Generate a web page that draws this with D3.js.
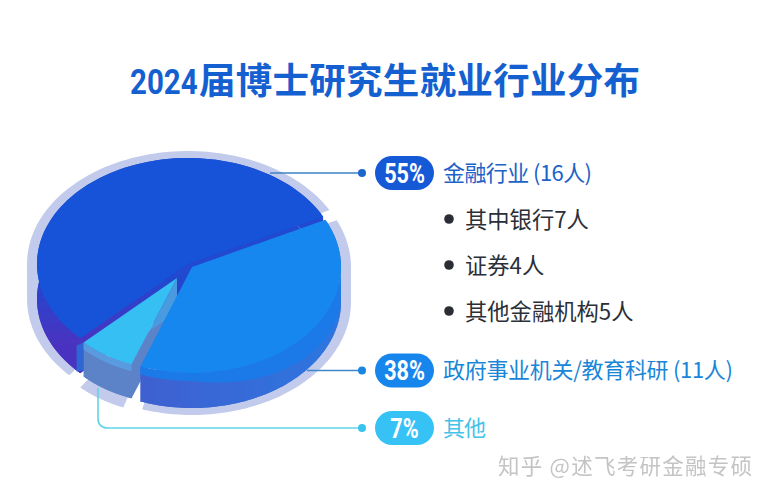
<!DOCTYPE html>
<html><head><meta charset="utf-8">
<script src="https://cdn.jsdelivr.net/npm/d3@7/dist/d3.min.js"></script>
<style>html,body{margin:0;background:#fff}svg{display:block}text{font-family:"Noto Sans CJK SC","Noto Sans",sans-serif}</style>
</head><body><svg id="c" width="773" height="500"></svg>
<script>
const titleText = "届博士研究生就业行业分布";
const titleYear = "2024";
const categories = ["金融行业 (16人)", "政府事业机关/教育科研 (11人)", "其他"];
const shares = [55, 38, 7];
const shareLabels = ["55%", "38%", "7%"];
const subItems = ["其中银行7人", "证券4人", "其他金融机构5人"];
const watermark = "知乎 @述飞考研金融专硕";

const svg = d3.select("#c");
const pillFill = ["#1559d6", "#1786ec", "#36c2f5"];
const labelFill = ["#1c62c8", "#1a86d8", "#45c2e8"];
const labelLen = [149, 290, 43];
const lineFill = ["#3d80c4", "#3d88cc", "#62d3e6"];
const dotFill = ["#1a66cc", "#1a86e0", "#38c4ee"];
const rowY = [173, 370.5, 428];

const geo = [
  {cx:188, cy:264, rx:151, ry:106, depth:35, top:"#1853d8", wall:"url(#dw)"},
  {cx:192, cy:267, rx:149, ry:106, depth:35, top:"#1787ef", wall:"url(#lw)"},
  {cx:177, cy:278, rx:131, ry:92,  depth:34, top:"#36bff3", wall:"#5b82c8"}
];
const defs = svg.append("defs");
const lg = defs.append("linearGradient").attr("id","lw");
lg.append("stop").attr("offset","0").attr("stop-color","#3f60d0");
lg.append("stop").attr("offset","1").attr("stop-color","#2c76e0");
const dg = defs.append("linearGradient").attr("id","dw").attr("gradientUnits","userSpaceOnUse")
  .attr("x1",0).attr("x2",0).attr("y1",275).attr("y2",345);
dg.append("stop").attr("offset","0").attr("stop-color","#2048d0");
dg.append("stop").attr("offset","1").attr("stop-color","#4a33c0");
defs.append("filter").attr("id","soft").append("feGaussianBlur").attr("stdDeviation",0.45);
defs.append("filter").attr("id","wm").append("feGaussianBlur").attr("stdDeviation",0.6);

const startDeg = 225.5;
const order = [0, 1, 2];
const pie = d3.pie().sort(null).value(d => d)
  .startAngle(startDeg * Math.PI/180).endAngle((startDeg+360) * Math.PI/180);
const arcs = pie(shares);

function pts(a, g, padX, padY, drop) {
  const n = 90, out = [];
  d3.range(n+1).forEach(i => {
    const t = a.startAngle + (a.endAngle - a.startAngle) * i / n;
    const c = Math.cos(t), s = Math.sin(t);
    out.push([g.cx + (g.rx+padX)*s, g.cy - (g.ry+padY)*c + (drop && c < 0 ? g.depth : 0)]);
  });
  return out;
}
const pathLine = d3.line();
const closed = p => pathLine(p) + "Z";
const root = svg.append("g").attr("filter","url(#soft)");

// halo behind each wedge
order.forEach(i => {
  const g = geo[i], a = arcs[i];
  const shrink = 0.035;
  const b = {startAngle:a.startAngle+shrink, endAngle:a.endAngle-shrink};
  const hg = i===2 ? {...g, cx:g.cx-1, cy:g.cy+3} : g;
  root.append("path").attr("d", closed([[g.cx,g.cy+(i===2?10:0)], ...pts(b, hg, i===2?8:10, i===2?8:7, true)]))
    .attr("fill", "#c3cbec");
});

function wallFace(i){
  const g = geo[i], a = arcs[i];
  const f = pts(a, g, 0, 0, false);
  const low = f.map(p => [p[0], p[1]+g.depth]);
  root.append("path").attr("d", closed([[g.cx, g.cy+g.depth], ...low])).attr("fill", g.wall);
  root.append("path").attr("d", closed([...f, ...low.slice().reverse()])).attr("fill", g.wall);
}
function topFace(i){
  const g = geo[i], a = arcs[i];
  root.append("path").attr("d", closed([[g.cx,g.cy], ...pts(a, g, 0, 0, false)])).attr("fill", g.top);
}
// dark wedge
wallFace(0); topFace(0);
// cyan wedge
(function(){
  const g = geo[2], a = arcs[2], o = pts(a,g,0,0,false);
  const right = o[0], left = o[90];
  root.append("path").attr("d", closed([left,[left[0]-7,left[1]+3],[left[0]-7,left[1]+29],[left[0],left[1]+28]])).attr("fill","#2d66d4");
  root.append("path").attr("d", closed([[g.cx,g.cy],right,[right[0]-2,right[1]+g.depth],[g.cx,g.cy+g.depth]])).attr("fill","#4a9ade");
  wallFace(2);
  const bandIn = o.map(p=>[p[0],p[1]+7]);
  root.append("path").attr("d", closed([...o, ...bandIn.reverse()])).attr("fill","#5a9adf");
  topFace(2);
})();
// light wedge
wallFace(1);
(function(){
  const g = geo[1], a = arcs[1];
  const f = pts(a,g,0,0,false).filter(p => p[1] > g.cy);
  const band = f.map(p => [p[0], p[1] + 8 + 18*Math.max(0,(p[0]-g.cx)/g.rx)]).reverse();
  root.append("path").attr("d", closed([...f, ...band])).attr("fill","#1e7ae8");
})();
topFace(1);

// connectors
const conn = svg.append("g").attr("fill","none").attr("stroke-width",1.6);
conn.append("path").attr("d", d3.line()([[270,173],[362,173]])).attr("stroke",lineFill[0]);
conn.append("path").attr("d", d3.line()([[307,370.5],[362,370.5]])).attr("stroke",lineFill[1]);
const p3 = d3.path(); p3.moveTo(98,388); p3.lineTo(98,418); p3.quadraticCurveTo(98,428,108,428); p3.lineTo(362,428);
conn.append("path").attr("d", p3.toString()).attr("stroke",lineFill[2]);

// title
svg.append("text").attr("transform","translate(130,94) scale(0.82,1)").style("font-family","Roboto,sans-serif")
  .attr("font-weight",700).attr("font-size",36).attr("fill","#1560d0").text(titleYear);
svg.append("text").attr("x",199).attr("y",94).attr("font-weight",700).attr("font-size",36.5)
  .attr("fill","#1560d0").attr("textLength",441).text(titleText);

// legend rows
categories.forEach((c,i) => {
  const y = rowY[i];
  svg.append("circle").attr("cx",362).attr("cy",y).attr("r",4).attr("fill",dotFill[i]);
  svg.append("rect").attr("x",375).attr("y",y-17).attr("width",59).attr("height",34).attr("rx",17).attr("fill",pillFill[i]);
  svg.append("text").attr("transform",`translate(404.5,${y+9.5}) scale(0.8,1)`).attr("text-anchor","middle")
    .style("font-family","Roboto,sans-serif").attr("font-weight",700)
    .attr("font-size",27).attr("fill","#fff").text(shareLabels[i]);
  svg.append("text").attr("x",443).attr("y",y+7.5).attr("font-size",22).attr("fill",labelFill[i])
    .attr("textLength",labelLen[i]).text(c);
});
const subY = d3.scalePoint().domain(subItems).range([220,312]);
subItems.forEach(s => {
  svg.append("circle").attr("cx",449).attr("cy",subY(s)-1).attr("r",4.8).attr("fill","#2a2d33");
  svg.append("text").attr("x",465).attr("y",subY(s)+7.5).attr("font-size",22.3).attr("fill","#2a2f38").text(s);
});
svg.append("text").attr("x",498).attr("y",474).attr("font-size",21.5).attr("fill","#c4c4c4")
  .attr("filter","url(#wm)").attr("textLength",254).text(watermark);
</script></body></html>
